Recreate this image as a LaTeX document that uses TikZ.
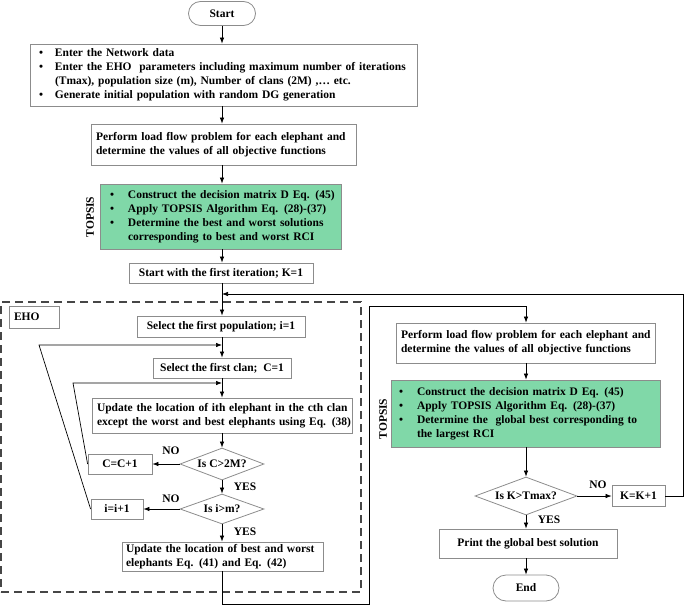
\documentclass[tikz,border=0pt]{standalone}
\usepackage{fontspec}
\setmainfont{Liberation Serif}
\usetikzlibrary{shapes.geometric,shapes.misc,arrows.meta}
\definecolor{tgreen}{RGB}{128,216,168}
\definecolor{bgrey}{RGB}{140,140,140}
\definecolor{dgrey}{RGB}{70,70,70}
\newcommand{\mylist}[2]{\begin{tabular}{@{}p{#1}@{}l@{}}#2\end{tabular}}
\newcommand{\mylines}[1]{\begin{tabular}{@{}l@{}}#1\end{tabular}}
\begin{document}
\begin{tikzpicture}[x=1pt,y=-1pt,
  font=\fontsize{11.5}{14}\selectfont\bfseries,
  box/.style={draw=bgrey, line width=0.8pt, fill=white, inner ysep=0pt, inner xsep=0pt, align=center},
  lbox/.style={box, align=left},
  gbox/.style={lbox, fill=tgreen},
  term/.style={draw=bgrey, line width=0.8pt, rounded rectangle, inner sep=0pt},
  dec/.style={draw=bgrey, line width=0.8pt, diamond, aspect=2.6, inner sep=0pt},
  arr/.style={-{Latex[length=6pt,width=4.5pt]}, line width=0.7pt},
  ln/.style={line width=0.7pt},
  lab/.style={inner sep=0pt},
  ehobox/.style={draw=dgrey, line width=1.3pt, dash pattern=on 8pt off 5pt}
]
\useasboundingbox (0,0) rectangle (685,607);

% EHO dashed region
\node[ehobox, minimum width=360pt, minimum height=290pt, inner sep=0pt] (eho) at (181,447) {};
\node[box, text width=40pt, inner xsep=5pt, align=left, minimum height=22pt] (eholab) at (34,317) {EHO};

% main column
\node[term, minimum width=67pt, minimum height=24pt] (start) at (222,13.5) {Start};
\node[lbox, text width=369pt, inner xsep=9pt, minimum height=62pt] (b1) at (223.5,75) {\mylist{16pt}{%
\textbullet & Enter the Network data\\
\textbullet & Enter the EHO\ \ parameters including maximum number of iterations\\
 & (Tmax), population size (m), Number of clans (2M) ,… etc.\\
\textbullet & Generate initial population with random DG generation}};
\node[lbox, text width=255pt, inner xsep=5pt, minimum height=41pt] (b2) at (223.5,144.5) {\mylines{Perform load flow problem for each elephant and\\determine the values of all objective functions}};
\node[gbox, text width=221pt, inner xsep=10pt, minimum height=65pt] (g1) at (220.5,216.5) {\mylist{18pt}{%
\textbullet & Construct the decision matrix D Eq. (45)\\
\textbullet & Apply TOPSIS Algorithm Eq. (28)-(37)\\
\textbullet & Determine the best and worst solutions\\
 & corresponding to best and worst RCI}};
\node[lab, rotate=90] (t1) at (90,217) {TOPSIS};
\node[box, minimum width=184pt, minimum height=20pt] (b4) at (221,273) {Start with the first iteration; K=1};
\node[box, minimum width=168pt, minimum height=21pt] (selpop) at (221,326.5) {Select the first population; i=1};
\node[box, minimum width=138pt, minimum height=20pt] (selclan) at (222,368) {Select the first clan;\ \ C=1};
\node[lbox, text width=250pt, inner xsep=5pt, minimum height=35pt] (up1) at (222,415.5) {\mylines{Update the location of ith elephant in the cth clan\\except the worst and best elephants using Eq. (38)}};
\node[dec, minimum width=84pt, minimum height=32pt] (dC) at (222,464) {Is C>2M?};
\node[box, minimum width=64pt, minimum height=20pt] (cb) at (120,464) {C=C+1};
\node[dec, minimum width=84pt, minimum height=30pt] (di) at (222,509) {Is i>m?};
\node[box, minimum width=52pt, minimum height=20pt] (ib) at (117,509) {i=i+1};
\node[lbox, text width=193pt, inner xsep=4pt, minimum height=29pt] (up2) at (222.5,556.5) {\mylines{Update the location of best and worst\\elephants Eq. (41) and Eq. (42)}};

% right column
\node[lbox, text width=249pt, inner xsep=5pt, minimum height=40pt] (rb) at (525.5,343) {\mylines{Perform load flow problem for each elephant and\\determine the values of all objective functions}};
\node[gbox, text width=253pt, inner xsep=8pt, minimum height=67pt] (g2) at (525.5,413.5) {\mylist{18pt}{%
\textbullet & Construct the decision matrix D Eq. (45)\\
\textbullet & Apply TOPSIS Algorithm Eq. (28)-(37)\\
\textbullet & Determine the\ \ global best corresponding to\\
 & the largest RCI}};
\node[lab, rotate=90] (t2) at (383,419) {TOPSIS};
\node[dec, minimum width=102pt, minimum height=38pt] (dK) at (526,496) {Is K>Tmax?};
\node[box, minimum width=53pt, minimum height=21pt] (kb) at (638.5,496) {K=K+1};
\node[box, minimum width=178pt, minimum height=29pt] (pr) at (528,543.5) {Print the global best solution};
\node[term, minimum width=66pt, minimum height=26pt] (end) at (526,588) {End};

% labels
\node[lab] (no1) at (171,451) {NO};
\node[lab] (yes1) at (245,487) {YES};
\node[lab] (no2) at (171,499) {NO};
\node[lab] (yes2) at (245,532) {YES};
\node[lab] (no3) at (598,485) {NO};
\node[lab] (yes3) at (549,520) {YES};

% coordinates
\coordinate (mL) at (222,294);
\coordinate (mR) at (683,294);
\coordinate (kR) at (683,496);
\coordinate (pL) at (222,345);
\coordinate (pX) at (39,345);
\coordinate (cL) at (222,383);
\coordinate (cX) at (73,383);
\coordinate (bot) at (222,604);
\coordinate (botR) at (369,604);
\coordinate (topR) at (369,306);
\coordinate (topM) at (526,306);

% connectors
\draw[arr] (start.south) -- (start.south |- b1.north);
\draw[arr] (b1.south -| start.south) -- (start.south |- b2.north);
\draw[arr] (b2.south -| start.south) -- (start.south |- g1.north);
\draw[arr] (g1.south -| start.south) -- (start.south |- b4.north);
\draw[arr] (b4.south -| start.south) -- (start.south |- selpop.north);
\draw[arr] (selpop.south -| start.south) -- (start.south |- selclan.north);
\draw[arr] (selclan.south -| start.south) -- (start.south |- up1.north);
\draw[arr] (up1.south -| start.south) -- (dC.north);
\draw[arr] (dC.west) -- (cb.east);
\draw[arr] (cb.west) -- (cX) -- (cL);
\draw[arr] (dC.south) -- (di.north);
\draw[arr] (di.west) -- (ib.east);
\draw[arr] (ib.west) -- (pX) -- (pL);
\draw[arr] (di.south) -- (di.south |- up2.north);
\draw[arr] (di.south |- up2.south) -- (bot) -- (botR) -- (topR) -- (topM) -- (rb.north -| topM);
\draw[arr] (rb.south -| topM) -- (g2.north -| topM);
\draw[arr] (g2.south -| topM) -- (dK.north);
\draw[arr] (dK.east) -- (kb.west);
\draw[arr] (kb.east) -- (kR) -- (mR) -- (mL);
\draw[arr] (dK.south) -- (dK.south |- pr.north);
\draw[arr] (dK.south |- pr.south) -- (end.north);
\end{tikzpicture}
\end{document}
